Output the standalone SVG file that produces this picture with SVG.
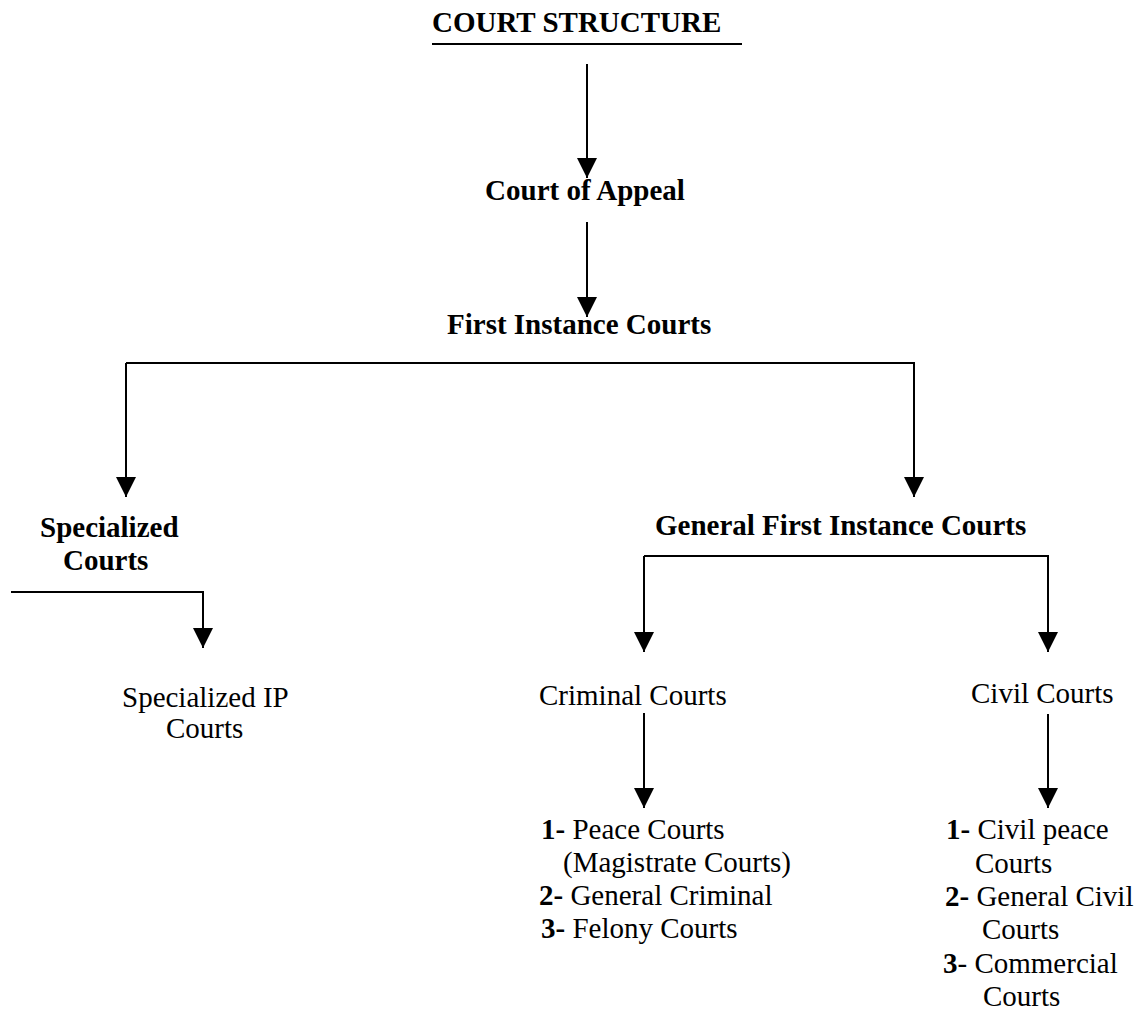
<svg xmlns="http://www.w3.org/2000/svg" width="1146" height="1010" viewBox="0 0 1146 1010">
<style>
text{font-family:"Liberation Serif","Times New Roman",serif;font-size:29px;fill:#000}
.b{font-weight:bold}
.c{fill:none;stroke:#000;stroke-width:2}
</style>
<defs>
<marker id="ah" markerUnits="userSpaceOnUse" markerWidth="20" markerHeight="20" refX="20" refY="10" orient="auto">
<path d="M0,0 L20,10 L0,20 z" fill="#000"/>
</marker>
</defs>
<rect width="1146" height="1010" fill="#fff"/>
<g id="connectors">
<line x1="432" y1="44" x2="742" y2="44" stroke="#000" stroke-width="2"/>
<path class="c" d="M587,64 V178" marker-end="url(#ah)"/>
<path class="c" d="M587,222 V317" marker-end="url(#ah)"/>
<path class="c" d="M126,363 H914 V497" marker-end="url(#ah)"/>
<path class="c" d="M126,363 V497" marker-end="url(#ah)"/>
<path class="c" d="M11,592 H203 V648" marker-end="url(#ah)"/>
<path class="c" d="M644,556 H1048 V652" marker-end="url(#ah)"/>
<path class="c" d="M644,556 V652" marker-end="url(#ah)"/>
<path class="c" d="M644,713 V808" marker-end="url(#ah)"/>
<path class="c" d="M1048,714 V808" marker-end="url(#ah)"/>
</g>
<g id="title"><text class="b" x="432" y="32">COURT STRUCTURE</text></g>
<g id="court-of-appeal"><text class="b" x="585" y="200" text-anchor="middle">Court of Appeal</text></g>
<g id="first-instance"><text class="b" x="447" y="334">First Instance Courts</text></g>
<g id="specialized"><text class="b" x="40" y="537">Specialized</text><text class="b" x="63" y="570">Courts</text></g>
<g id="general-first-instance"><text class="b" x="655" y="535">General First Instance Courts</text></g>
<g id="specialized-ip"><text x="122" y="707">Specialized IP</text><text x="166" y="738">Courts</text></g>
<g id="criminal"><text x="539" y="705">Criminal Courts</text></g>
<g id="civil"><text x="971" y="703">Civil Courts</text></g>
<g id="criminal-list">
<text x="541" y="839"><tspan class="b">1-</tspan> Peace Courts</text>
<text x="563" y="872">(Magistrate Courts)</text>
<text x="539" y="905"><tspan class="b">2-</tspan> General Criminal</text>
<text x="541" y="938"><tspan class="b">3-</tspan> Felony Courts</text>
</g>
<g id="civil-list">
<text x="946" y="839"><tspan class="b">1-</tspan> Civil peace</text>
<text x="975" y="873">Courts</text>
<text x="945" y="906"><tspan class="b">2-</tspan> General Civil</text>
<text x="982" y="939">Courts</text>
<text x="943" y="973"><tspan class="b">3</tspan>- Commercial</text>
<text x="983" y="1006">Courts</text>
</g>
</svg>
